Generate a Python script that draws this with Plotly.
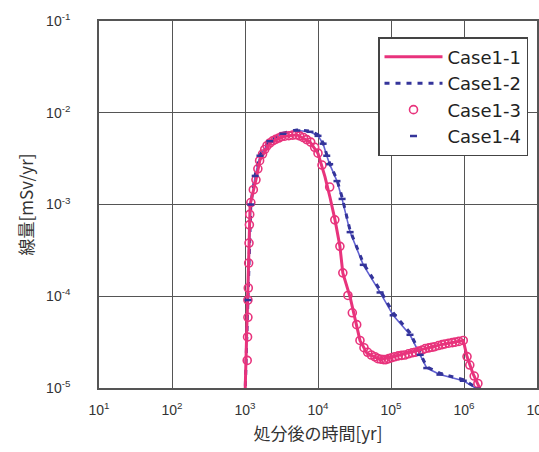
import plotly.graph_objects as go

# Dose vs. time after disposal, four cases (log-log)
case1_1_t = [1000, 1096, 1135, 1175, 1413, 1603, 2198, 3311, 5129, 7762, 10000, 12470, 14590,
             17100, 19950, 21880, 27540, 32360, 37580, 46770, 70800, 107000, 229000, 468000,
             977000, 1.10e6, 1.32e6, 1.66e6, 1.82e6]
case1_1_d = [8e-6, 9.1e-5, 3.2e-4, 1.0e-3, 1.86e-3, 3.05e-3, 4.7e-3, 5.5e-3, 5.75e-3, 4.8e-3,
             3.6e-3, 2.0e-3, 1.2e-3, 6.8e-4, 3.5e-4, 1.8e-4, 9.8e-5, 5.5e-5, 3.3e-5, 2.4e-5,
             2.04e-5, 2.2e-5, 2.57e-5, 2.95e-5, 3.3e-5, 2.2e-5, 1.45e-5, 1.0e-5, 8.3e-6]

case1_2_t = [1000, 1096, 1202, 1380, 1603, 2188, 3311, 5129, 7762, 10000, 11750, 13180, 14450,
             18200, 21380, 27540, 41690, 70800, 107000, 182000, 251000, 309000, 468000,
             977000, 1.51e6, 1.66e6]
case1_2_d = [8e-6, 9.1e-5, 1.02e-3, 2.1e-3, 3.5e-3, 5.0e-3, 6.0e-3, 6.5e-3, 6.3e-3, 5.75e-3,
             4.7e-3, 3.5e-3, 2.8e-3, 1.86e-3, 1.2e-3, 5.2e-4, 2.3e-4, 1.17e-4, 6.6e-5, 4.0e-5,
             2.4e-5, 1.7e-5, 1.45e-5, 1.23e-5, 1.0e-5, 8.9e-6]

case1_3_t = [1072, 1084, 1096, 1096, 1109, 1122, 1135, 1148, 1161, 1202, 1300, 1413, 1500, 1585,
             1738, 1862, 2000, 2188, 2400, 2630, 2900, 3162, 3500, 3981, 4500, 5012, 5600, 6310,
             7000, 7943, 9000, 10000, 11350, 14450, 17000, 19950, 21880, 25700, 29510, 33880,
             37580, 42660, 47860, 53700, 60260, 66070, 72440, 79430, 85110, 93330, 102300,
             112200, 125900, 140000, 154900, 173800, 194900, 213800, 239900, 269200, 295100,
             331100, 363100, 398100, 446700, 501200, 549500, 616600, 691800, 758600, 851100,
             977000, 1.10e6, 1.20e6, 1.38e6, 1.55e6]
case1_3_d = [2.0e-5, 3.6e-5, 5.9e-5, 9.1e-5, 1.23e-4, 2.3e-4, 3.8e-4, 6.0e-4, 7.8e-4, 1.05e-3,
             1.45e-3, 1.86e-3, 2.45e-3, 3.0e-3, 3.55e-3, 3.98e-3, 4.37e-3, 4.68e-3, 4.95e-3,
             5.13e-3, 5.3e-3, 5.5e-3, 5.55e-3, 5.62e-3, 5.7e-3, 5.75e-3, 5.6e-3, 5.37e-3,
             5.1e-3, 4.79e-3, 4.2e-3, 3.63e-3, 2.69e-3, 1.55e-3, 6.8e-4, 3.5e-4, 1.8e-4,
             1.02e-4, 6.6e-5, 4.9e-5, 3.3e-5, 2.75e-5, 2.45e-5, 2.29e-5, 2.19e-5, 2.09e-5,
             2.06e-5, 2.04e-5, 2.04e-5, 2.09e-5, 2.14e-5, 2.19e-5, 2.24e-5, 2.27e-5, 2.29e-5,
             2.36e-5, 2.42e-5, 2.45e-5, 2.52e-5, 2.6e-5, 2.69e-5, 2.74e-5, 2.78e-5, 2.82e-5,
             2.9e-5, 2.97e-5, 3.02e-5, 3.08e-5, 3.12e-5, 3.16e-5, 3.22e-5, 3.3e-5, 2.2e-5,
             1.78e-5, 1.35e-5, 1.12e-5]

case1_4_t = [1000, 1096, 1202, 1380, 1603, 2188, 3311, 5129, 7762, 10000, 11750, 13180, 14450,
             18200, 21380, 27540, 41690, 70800, 107000, 182000, 251000, 309000, 468000,
             977000, 1.51e6, 1.70e6]
case1_4_d = [8e-6, 9.1e-5, 1.0e-3, 2.05e-3, 3.4e-3, 4.9e-3, 5.9e-3, 6.4e-3, 6.2e-3, 5.6e-3,
             4.6e-3, 3.4e-3, 2.75e-3, 1.8e-3, 1.15e-3, 5.0e-4, 2.2e-4, 1.1e-4, 6.2e-5, 3.8e-5,
             2.3e-5, 1.65e-5, 1.4e-5, 1.2e-5, 9.8e-6, 8.5e-6]

x_ticks = [1e1, 1e2, 1e3, 1e4, 1e5, 1e6, 1e7]
x_tick_text = ["10<sup>1</sup>", "10<sup>2</sup>", "10<sup>3</sup>", "10<sup>4</sup>",
               "10<sup>5</sup>", "10<sup>6</sup>", "10<sup>7</sup>"]
y_ticks = [1e-5, 1e-4, 1e-3, 1e-2, 1e-1]
y_tick_text = ["10<sup>-5</sup>", "10<sup>-4</sup>", "10<sup>-3</sup>", "10<sup>-2</sup>",
               "10<sup>-1</sup>"]

PINK = "#e8337c"
NAVY = "#34349a"
BLUE = "#6262d2"

fig = go.Figure()

# Case1-4: thin light line under its dash markers
fig.add_trace(go.Scatter(x=case1_4_t, y=case1_4_d, mode="lines", showlegend=False,
                         line=dict(color=BLUE, width=1.6), hoverinfo="skip"))
fig.add_trace(go.Scatter(x=case1_2_t, y=case1_2_d, mode="lines", name="Case1-2", legendrank=2,
                         line=dict(color=NAVY, width=3, dash="5px,6px")))
fig.add_trace(go.Scatter(x=case1_3_t, y=case1_3_d, mode="markers", name="Case1-3", legendrank=3,
                         marker=dict(symbol="circle-open", size=8, color=PINK,
                                     line=dict(color=PINK, width=1.6))))
fig.add_trace(go.Scatter(x=case1_1_t, y=case1_1_d, mode="lines", name="Case1-1", legendrank=1,
                         line=dict(color=PINK, width=3)))
fig.add_trace(go.Scatter(x=case1_4_t, y=case1_4_d, mode="markers", name="Case1-4", legendrank=4,
                         marker=dict(symbol="line-ew", size=5, color=BLUE,
                                     line=dict(color=NAVY, width=2.5))))

axis_common = dict(
    type="log", showgrid=True, gridcolor="#555555", gridwidth=1.4,
    showline=True, linecolor="#555555", linewidth=1.6, mirror=True,
    ticks="", zeroline=False, ticklabeloverflow="allow", automargin=False,
    tickfont=dict(family="Liberation Sans, Arial, sans-serif", size=14, color="#333333"),
)

fig.update_layout(
    width=539, height=452,
    margin=dict(l=99, r=2, t=21, b=64),
    paper_bgcolor="white", plot_bgcolor="white",
    xaxis=dict(axis_common, range=[1, 7], tickvals=x_ticks, ticktext=x_tick_text,
               ticklabelstandoff=8,
               title=dict(text="処分後の時間[yr]", standoff=12,
                          font=dict(family="Noto Sans CJK JP", size=17, color="#333333"))),
    yaxis=dict(axis_common, range=[-5, -1], tickvals=y_ticks, ticktext=y_tick_text,
               ticklabelstandoff=24,
               title=dict(text="線量[mSv/yr]", standoff=8,
                          font=dict(family="Noto Sans CJK JP", size=17, color="#333333"))),
    legend=dict(x=0.637, y=0.956, xanchor="left", yanchor="top",
                bgcolor="white", bordercolor="#444444", borderwidth=1.5,
                font=dict(family="DejaVu Sans, sans-serif", size=18, color="#222222"),
                tracegroupgap=0, itemwidth=58),
)

fig.write_html("out.html")
